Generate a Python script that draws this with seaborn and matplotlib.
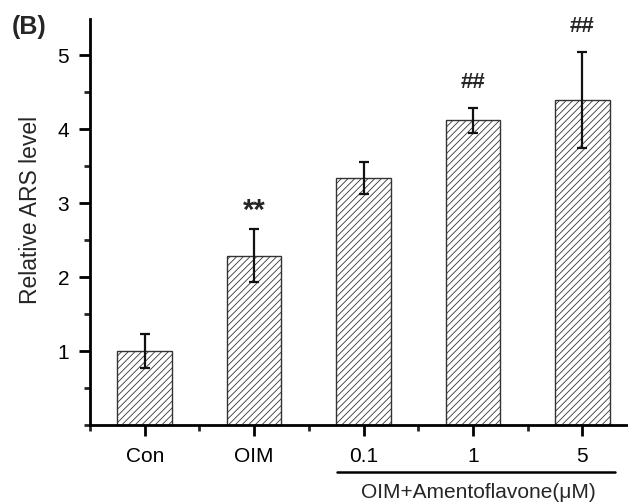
import matplotlib
matplotlib.use("Agg")
import matplotlib.pyplot as plt
from matplotlib.ticker import MultipleLocator
import seaborn as sns
import pandas as pd

categories = ["Con", "OIM", "0.1", "1", "5"]
values = [1.00, 2.29, 3.34, 4.12, 4.39]
errors = [0.23, 0.36, 0.21, 0.17, 0.65]
marks = ["", "**", "", "##", "##"]
group_label = "OIM+Amentoflavone(μM)"
ylabel = "Relative ARS level"
panel = "(B)"

sns.set_style("ticks")
plt.rcParams["font.family"] = ["Liberation Sans", "DejaVu Sans"]
plt.rcParams["hatch.linewidth"] = 0.6
plt.rcParams["hatch.color"] = "#333333"

df = pd.DataFrame({"cat": categories, "val": values})

fig = plt.figure(figsize=(6.28, 5.03), dpi=100)
ax = fig.add_axes([90 / 628, 1 - 425 / 503, 547 / 628, 406 / 503])

sns.barplot(data=df, x="cat", y="val", ax=ax, color="white", edgecolor="#333333",
            linewidth=1.0, width=0.5, errorbar=None, hatch="/////")
ax.errorbar(range(len(categories)), values, yerr=errors, fmt="none",
            ecolor="#111111", elinewidth=1.6, capsize=3.5, capthick=1.6, zorder=5)

for i, (v, e, m) in enumerate(zip(values, errors, marks)):
    if m == "**":
        ax.text(i, v + e + 0.05, m, ha="center", va="bottom", fontsize=21,
                fontweight="bold")
    elif m:
        ax.text(i, v + e + 0.2, m, ha="center", va="bottom", fontsize=16,
                fontweight="bold")

ax.set_xlim(-0.5, 4.5)
ax.set_ylim(0, 5.49)
ax.set_yticks([1, 2, 3, 4, 5])
ax.yaxis.set_minor_locator(MultipleLocator(0.5))
ax.set_xticks(range(len(categories)))
ax.set_xticks([-0.5, 0.5, 1.5, 2.5, 3.5, 4.5], minor=True)
ax.set_xticklabels(categories)
ax.set_xlabel("")
ax.set_ylabel(ylabel, fontsize=16.5)
ax.yaxis.set_label_coords(-0.088, 0.53)
ax.tick_params(axis="both", which="major", labelsize=15, length=8, width=2,
               direction="out", colors="black")
ax.tick_params(axis="both", which="minor", length=4, width=2, direction="out")
ax.tick_params(axis="x", which="major", pad=8)
ax.tick_params(axis="y", which="major", pad=7)
for s in ["left", "bottom"]:
    ax.spines[s].set_linewidth(2)
    ax.spines[s].set_color("black")
ax.spines["top"].set_visible(False)
ax.spines["right"].set_visible(False)

fig.text(12 / 628, 1 - 27 / 503, panel, fontsize=18, fontweight="bold",
         ha="left", va="center")
fig.add_artist(plt.Line2D([337 / 628, 615 / 628], [1 - 472 / 503, 1 - 472 / 503],
                          color="black", linewidth=1.8))
fig.text(478 / 628, 1 - 492 / 503, group_label, fontsize=15, ha="center",
         va="center")

fig.savefig("out.png", dpi=100)
